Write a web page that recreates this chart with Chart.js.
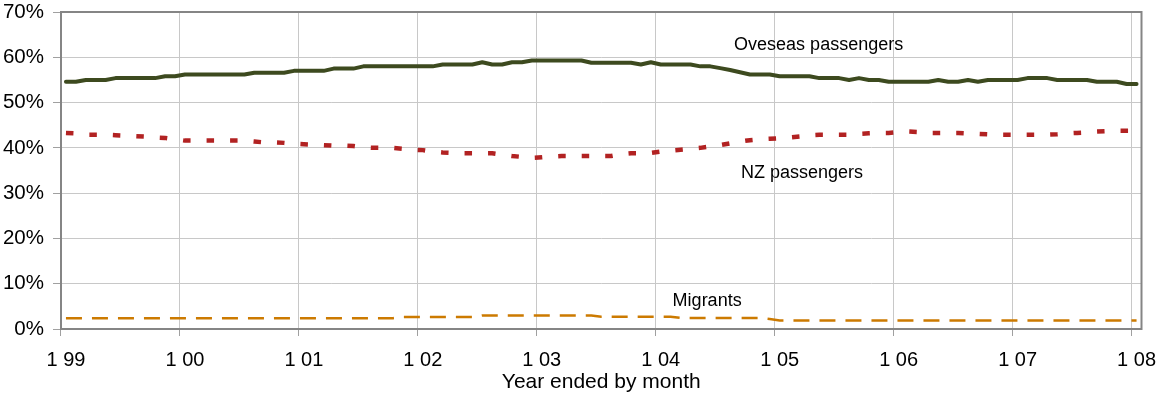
<!DOCTYPE html>
<html>
<head>
<meta charset="utf-8">
<script src="https://cdn.jsdelivr.net/npm/chart.js@4/dist/chart.umd.min.js"></script>
<style>
  html, body { margin: 0; padding: 0; background: #fff; }
  #wrap { width: 1158px; height: 394px; position: relative; }
</style>
</head>
<body>
<div id="wrap"><canvas id="c" width="1158" height="394"></canvas></div>
<script>
// Tick labels shown along the time axis (January of each year)
const xTickLabels = ['1 99', '1 00', '1 01', '1 02', '1 03', '1 04', '1 05', '1 06', '1 07', '1 08'];
const years = ['99', '00', '01', '02', '03', '04', '05', '06', '07', '08'];

// Monthly categories, Jan 1999 to Jan 2008 (year ended by month)
const months = [];
years.forEach((yy, k) => {
  const last = k === years.length - 1 ? 1 : 12;
  for (let m = 1; m <= last; m++) months.push(m + ' ' + yy);
});

// Share of total passenger movements (%)
const overseasPassengers = [
  54.6, 54.6, 55.0, 55.0, 55.0, 55.4, 55.4, 55.4, 55.4, 55.4, 55.8, 55.8,
  56.2, 56.2, 56.2, 56.2, 56.2, 56.2, 56.2, 56.6, 56.6, 56.6, 56.6, 57.0,
  57.0, 57.0, 57.0, 57.5, 57.5, 57.5, 58.0, 58.0, 58.0, 58.0, 58.0, 58.0,
  58.0, 58.0, 58.4, 58.4, 58.4, 58.4, 58.9, 58.4, 58.4, 58.9, 58.9, 59.3,
  59.3, 59.3, 59.3, 59.3, 59.3, 58.8, 58.8, 58.8, 58.8, 58.8, 58.4, 58.9,
  58.4, 58.4, 58.4, 58.4, 58.0, 58.0, 57.6, 57.2, 56.7, 56.2, 56.2, 56.2,
  55.8, 55.8, 55.8, 55.8, 55.4, 55.4, 55.4, 55.0, 55.4, 55.0, 55.0, 54.6,
  54.6, 54.6, 54.6, 54.6, 55.0, 54.6, 54.6, 55.0, 54.6, 55.0, 55.0, 55.0,
  55.0, 55.4, 55.4, 55.4, 55.0, 55.0, 55.0, 55.0, 54.6, 54.6, 54.6, 54.1,
  54.1
];

const nzPassengers = [
  43.3, 43.2, 42.9, 42.9, 42.9, 42.8, 42.7, 42.6, 42.5, 42.3, 42.2, 41.9,
  41.6, 41.6, 41.6, 41.6, 41.6, 41.6, 41.6, 41.4, 41.2, 41.2, 41.1, 40.9,
  40.8, 40.7, 40.6, 40.5, 40.5, 40.4, 40.1, 40.0, 40.0, 40.0, 39.8, 39.6,
  39.5, 39.2, 39.0, 38.9, 38.8, 38.8, 38.8, 38.8, 38.5, 38.2, 38.0, 37.8,
  37.9, 38.1, 38.2, 38.2, 38.2, 38.2, 38.2, 38.2, 38.6, 38.8, 38.8, 38.9,
  39.2, 39.4, 39.6, 39.8, 40.0, 40.3, 40.6, 41.0, 41.4, 41.7, 41.9, 42.0,
  42.1, 42.3, 42.5, 42.8, 42.9, 42.9, 42.9, 42.9, 43.1, 43.2, 43.3, 43.3,
  43.5, 43.6, 43.5, 43.3, 43.3, 43.3, 43.3, 43.2, 43.1, 43.0, 42.9, 42.9,
  42.9, 42.9, 42.9, 42.9, 43.0, 43.2, 43.3, 43.4, 43.6, 43.7, 43.8, 43.8,
  43.8
];

const migrants = [
  2.4, 2.4, 2.4, 2.4, 2.4, 2.4, 2.4, 2.4, 2.4, 2.4, 2.4, 2.4,
  2.4, 2.4, 2.4, 2.4, 2.4, 2.4, 2.4, 2.4, 2.4, 2.4, 2.4, 2.4,
  2.4, 2.4, 2.4, 2.4, 2.4, 2.4, 2.4, 2.4, 2.4, 2.4, 2.65, 2.65,
  2.65, 2.65, 2.65, 2.65, 2.65, 2.65, 3.0, 3.0, 3.0, 3.0, 3.0, 3.0,
  3.0, 3.0, 3.0, 3.0, 3.0, 3.0, 2.7, 2.7, 2.7, 2.7, 2.7, 2.7,
  2.7, 2.7, 2.45, 2.45, 2.45, 2.45, 2.45, 2.45, 2.45, 2.45, 2.45, 2.2,
  1.9, 1.9, 1.9, 1.9, 1.9, 1.9, 1.9, 1.9, 1.9, 1.9, 1.9, 1.9,
  1.9, 1.9, 1.9, 1.9, 1.9, 1.9, 1.9, 1.9, 1.9, 1.9, 1.9, 1.9,
  1.9, 1.9, 1.9, 1.9, 1.9, 1.9, 1.9, 1.9, 1.9, 1.9, 1.9, 1.9,
  1.9
];

const seriesNames = ['Oveseas passengers', 'NZ passengers', 'Migrants'];

// In-plot series captions, anchored in data units (month index, percent)
const captions = [
  { text: seriesNames[0], month: 67.4, pct: 61.7 },
  { text: seriesNames[1], month: 68.1, pct: 33.4 },
  { text: seriesNames[2], month: 61.2, pct: 5.1 }
];

const FONT = '"Liberation Sans", Arial, sans-serif';
const GRID = '#c8c8c8';

const frame = {
  id: 'frame',
  beforeDatasetsDraw(chart) {
    const { ctx, chartArea: a } = chart;
    ctx.save();
    ctx.strokeStyle = '#858585';
    ctx.lineWidth = 2;
    ctx.strokeRect(a.left, a.top, a.right - a.left, a.bottom - a.top);
    ctx.restore();
  }
};

const seriesCaptions = {
  id: 'seriesCaptions',
  afterDatasetsDraw(chart) {
    const { ctx, scales } = chart;
    ctx.save();
    ctx.font = '18px ' + FONT;
    ctx.fillStyle = '#000';
    ctx.textAlign = 'left';
    ctx.textBaseline = 'alphabetic';
    captions.forEach(c => {
      ctx.fillText(c.text, scales.x.getPixelForValue(c.month), scales.y.getPixelForValue(c.pct));
    });
    ctx.restore();
  }
};

// Only the January categories carry a grid line, tick mark and label
const isYearTick = ctx => ctx.index % 12 === 0 && ctx.index < months.length;

new Chart(document.getElementById('c'), {
  type: 'line',
  data: {
    labels: months,
    datasets: [
      {
        label: seriesNames[2],
        data: migrants,
        borderColor: '#cc7a00',
        borderWidth: 2.5,
        borderDash: [16, 10],
        pointRadius: 0,
        tension: 0
      },
      {
        label: seriesNames[1],
        data: nzPassengers,
        borderColor: '#b22222',
        borderWidth: 4.5,
        borderDash: [7.5, 16],
        borderCapStyle: 'butt',
        pointRadius: 0,
        tension: 0
      },
      {
        label: seriesNames[0],
        data: overseasPassengers,
        borderColor: '#3d4a1f',
        borderWidth: 4,
        borderJoinStyle: 'round',
        borderCapStyle: 'round',
        pointRadius: 0,
        tension: 0
      }
    ]
  },
  options: {
    responsive: false,
    animation: false,
    events: [],
    layout: { padding: { top: 12, right: 16.5, bottom: 0, left: 0 } },
    plugins: {
      legend: { display: false },
      tooltip: { enabled: false },
      title: { display: false }
    },
    scales: {
      x: {
        type: 'category',
        offset: true,
        border: { display: false },
        grid: {
          offset: true,
          lineWidth: 1,
          color: ctx => isYearTick(ctx) ? GRID : 'rgba(0,0,0,0)',
          tickColor: ctx => isYearTick(ctx) ? '#a0a0a0' : 'rgba(0,0,0,0)',
          tickLength: 7
        },
        ticks: {
          autoSkip: false,
          maxRotation: 0,
          minRotation: 0,
          padding: 12,
          color: '#000',
          font: { family: FONT, size: 20 },
          callback: (v, i) => i % 12 === 0 ? xTickLabels[i / 12] : ''
        },
        title: {
          display: true,
          text: 'Year ended by month',
          color: '#000',
          font: { family: FONT, size: 21 },
          padding: { top: 0, bottom: -1 }
        },
        afterFit: s => {
          s.height = 65;
          s.paddingLeft = 0;
          s.paddingRight = 0;
        }
      },
      y: {
        min: 0,
        max: 70,
        border: { display: false },
        grid: {
          color: GRID,
          lineWidth: 1,
          tickColor: '#a0a0a0',
          tickLength: 8
        },
        ticks: {
          stepSize: 10,
          padding: 9,
          color: '#000',
          font: { family: FONT, size: 20.5 },
          callback: v => v + '%'
        },
        afterFit: s => {
          s.width = 61;
          s.paddingTop = 0;
          s.paddingBottom = 0;
        }
      }
    }
  },
  plugins: [frame, seriesCaptions]
});
</script>
</body>
</html>
